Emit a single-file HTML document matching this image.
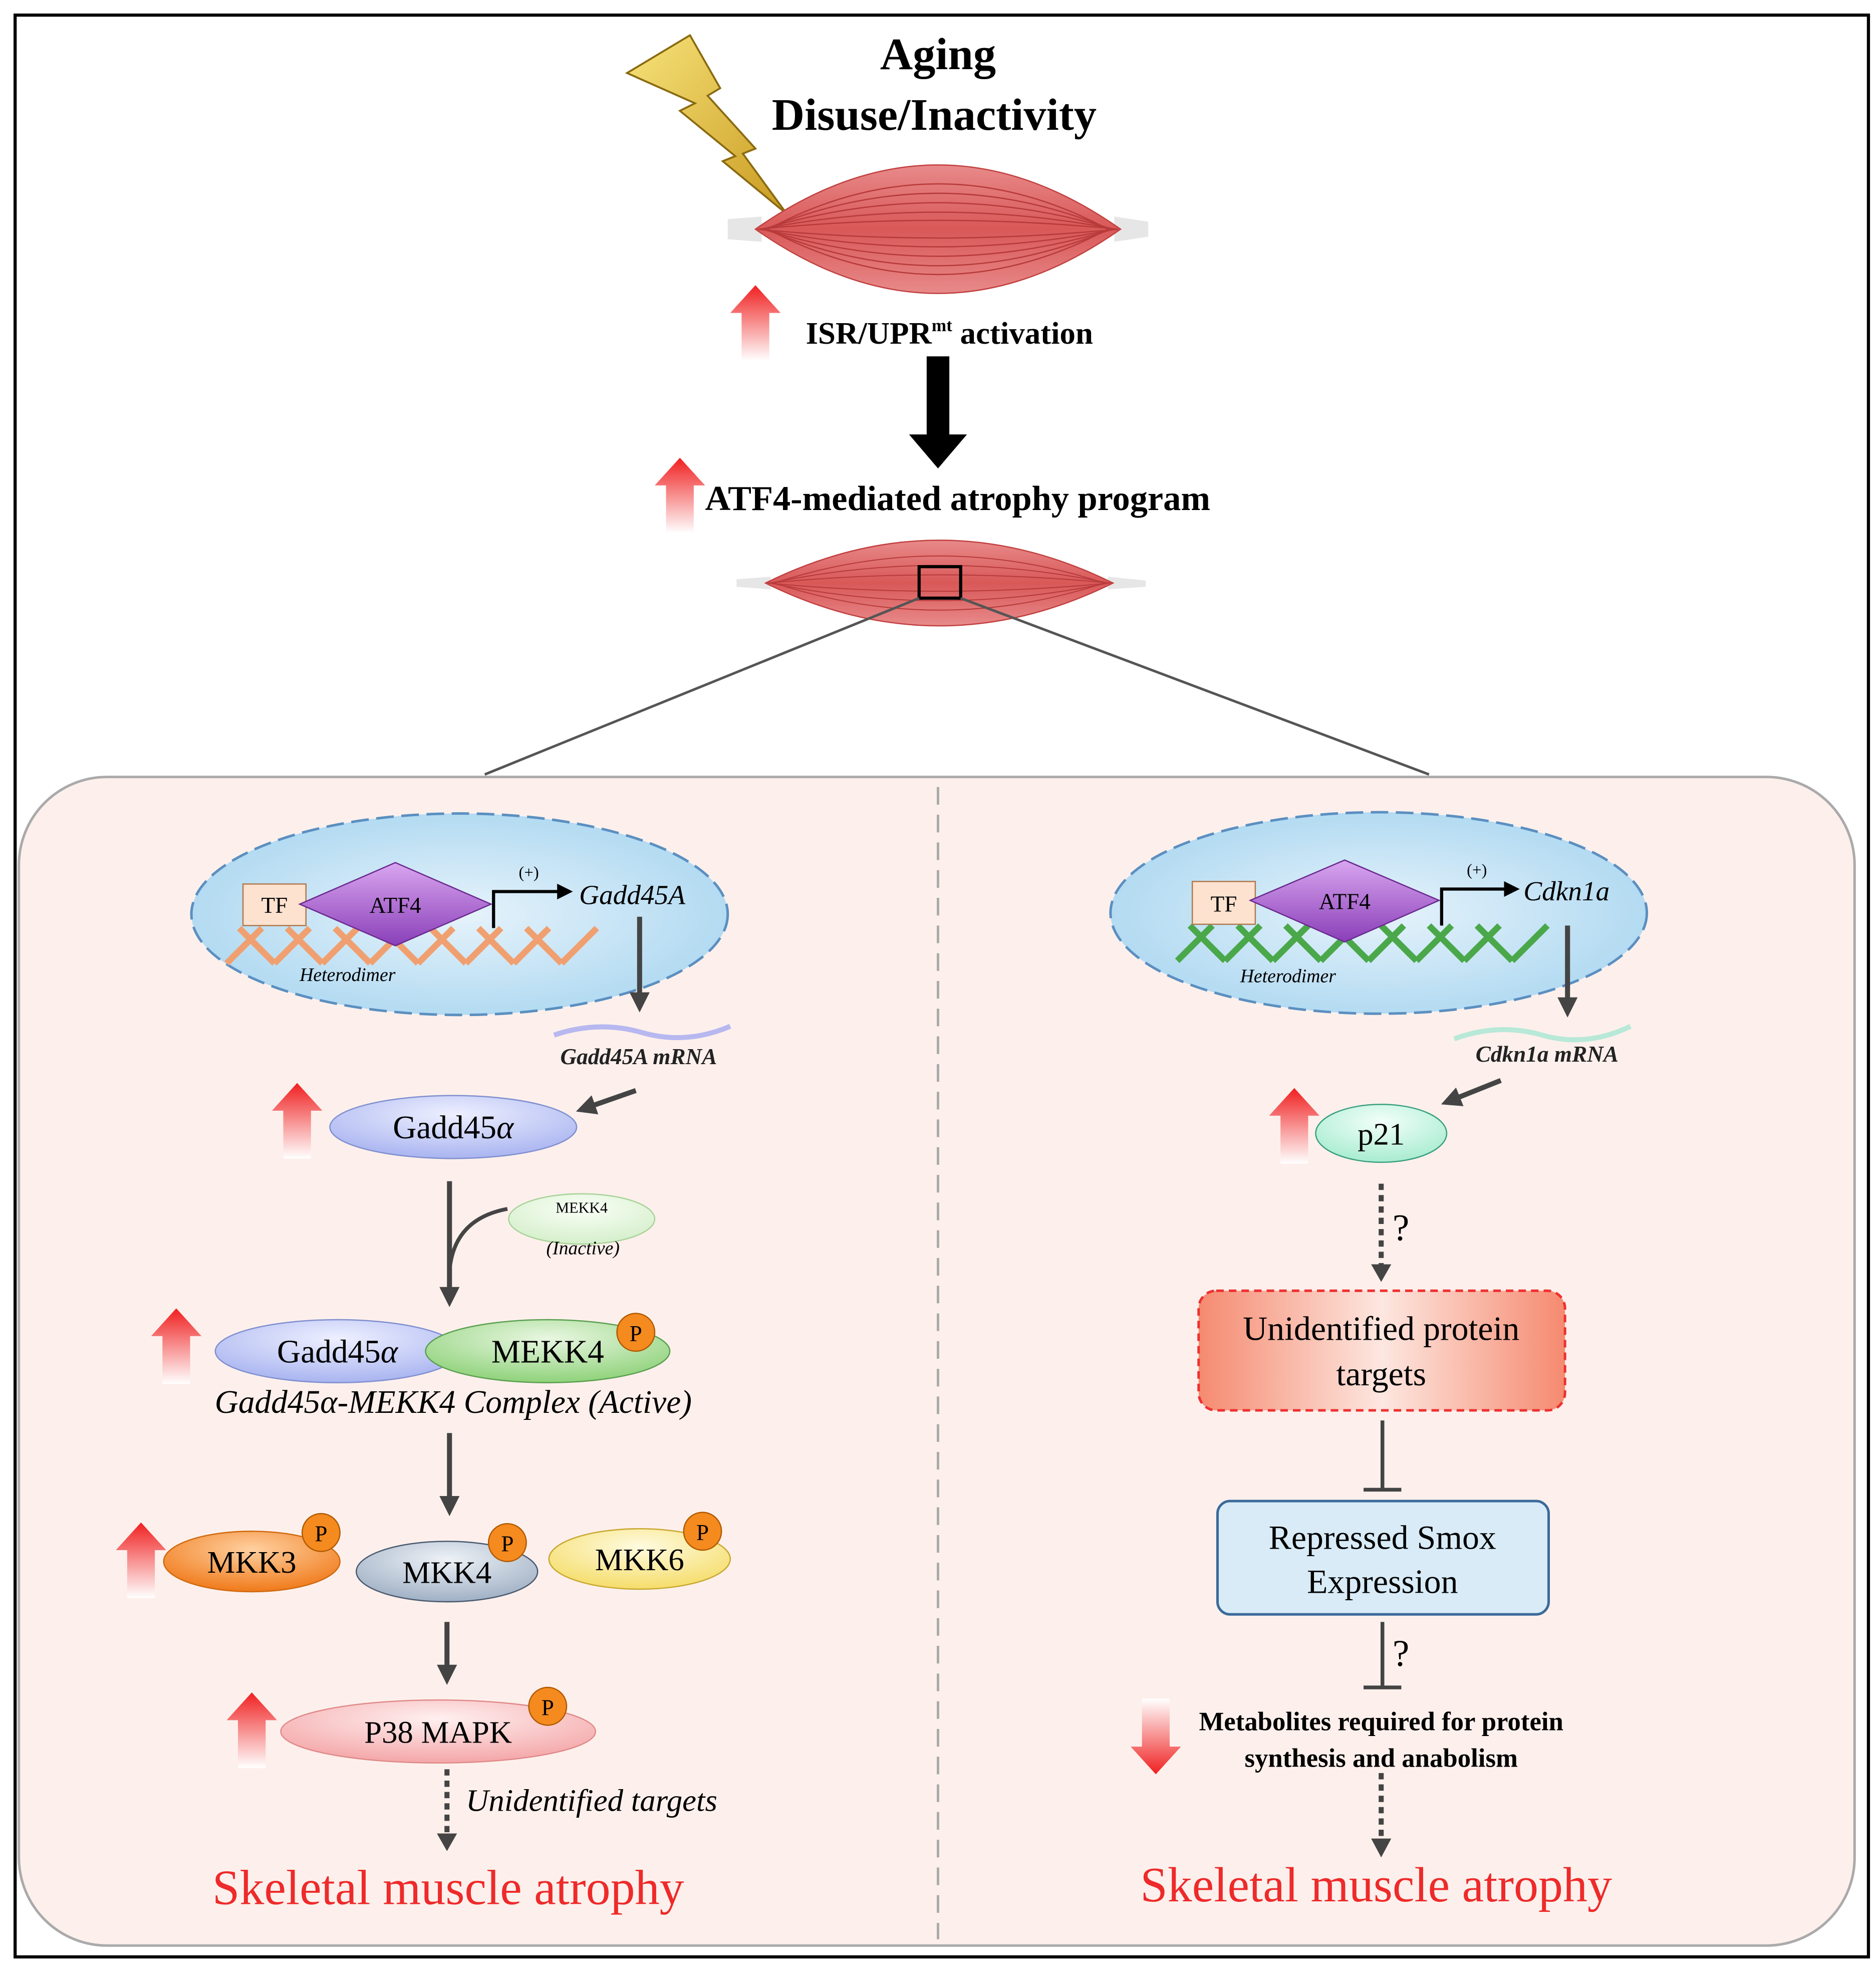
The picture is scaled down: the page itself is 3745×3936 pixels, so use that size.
<!DOCTYPE html>
<html><head><meta charset="utf-8"><style>html,body{margin:0;padding:0;background:#fff}svg{display:block}</style></head>
<body>
<svg width="3745" height="3936" viewBox="0 0 1490 1566" xmlns="http://www.w3.org/2000/svg" font-family="'Liberation Serif', serif">
<defs>
<linearGradient id="ru" x1="0" y1="0" x2="0" y2="1"><stop offset="0" stop-color="#f02020"/><stop offset="1" stop-color="#ffffff"/></linearGradient>
<linearGradient id="rd" x1="0" y1="1" x2="0" y2="0"><stop offset="0" stop-color="#f02020"/><stop offset="1" stop-color="#ffffff"/></linearGradient>
<radialGradient id="nuc" cx="0.5" cy="0.5" r="0.6"><stop offset="0" stop-color="#e6f3fb"/><stop offset="1" stop-color="#a9d6f0"/></radialGradient>
<linearGradient id="mus" x1="0" y1="0" x2="0" y2="1"><stop offset="0" stop-color="#e88a8a"/><stop offset="0.5" stop-color="#d95858"/><stop offset="1" stop-color="#e88a8a"/></linearGradient>
<linearGradient id="bolt" x1="0" y1="0" x2="1" y2="1"><stop offset="0" stop-color="#f7e37a"/><stop offset="1" stop-color="#c99a20"/></linearGradient>
<linearGradient id="ubox" x1="0" y1="0" x2="1" y2="0"><stop offset="0" stop-color="#f58a70"/><stop offset="0.5" stop-color="#fde7e0"/><stop offset="1" stop-color="#f58a70"/></linearGradient>
<radialGradient id="gL" cx="0.5" cy="0.3" r="0.7"><stop offset="0" stop-color="#eef0ff"/><stop offset="1" stop-color="#a9b4f0"/></radialGradient>
<radialGradient id="gG" cx="0.5" cy="0.3" r="0.7"><stop offset="0" stop-color="#e9f7e2"/><stop offset="1" stop-color="#8fd27a"/></radialGradient>
<radialGradient id="gO" cx="0.5" cy="0.3" r="0.7"><stop offset="0" stop-color="#ffd0a0"/><stop offset="1" stop-color="#f07a1a"/></radialGradient>
<radialGradient id="gB" cx="0.5" cy="0.3" r="0.7"><stop offset="0" stop-color="#eef2f7"/><stop offset="1" stop-color="#9fb0c4"/></radialGradient>
<radialGradient id="gY" cx="0.5" cy="0.3" r="0.7"><stop offset="0" stop-color="#fffbe0"/><stop offset="1" stop-color="#f5dd6a"/></radialGradient>
<radialGradient id="gP" cx="0.5" cy="0.3" r="0.7"><stop offset="0" stop-color="#fff0f0"/><stop offset="1" stop-color="#f4a6a8"/></radialGradient>
<radialGradient id="gM" cx="0.5" cy="0.3" r="0.7"><stop offset="0" stop-color="#f2fffa"/><stop offset="1" stop-color="#a8ecd0"/></radialGradient>
<radialGradient id="gK" cx="0.5" cy="0.3" r="0.7"><stop offset="0" stop-color="#fafff7"/><stop offset="1" stop-color="#d5efcb"/></radialGradient>
<linearGradient id="dia" x1="0" y1="0" x2="0" y2="1"><stop offset="0" stop-color="#d9a6f0"/><stop offset="1" stop-color="#8a3fb8"/></linearGradient>
<symbol id="up" viewBox="0 0 40 60" overflow="visible"><path d="M20 0 L40 22 L31 22 L31 60 L9 60 L9 22 L0 22 Z" fill="url(#ru)"/></symbol>
<symbol id="dn" viewBox="0 0 40 60" overflow="visible"><path d="M20 60 L40 38 L31 38 L31 0 L9 0 L9 38 L0 38 Z" fill="url(#rd)"/></symbol>
<marker id="ah" markerWidth="4" markerHeight="4" refX="2" refY="2" orient="auto" markerUnits="strokeWidth"><path d="M0 0 L4 2 L0 4 Z" fill="#444"/></marker>
<marker id="ahk" markerWidth="5" markerHeight="5" refX="3" refY="2.5" orient="auto" markerUnits="strokeWidth"><path d="M0 0 L5 2.5 L0 5 Z" fill="#000"/></marker>
</defs>
<rect x="12" y="12" width="1472" height="1542" fill="#fff" stroke="#000" stroke-width="2.5"/>

<path d="M498 58 L548 28 L572 70 L562 76 L600 118 L590 122 L625 170 L574 128 L584 124 L540 88 L552 82 Z" fill="url(#bolt)" stroke="#8a6a10" stroke-width="1.5"/>
<text x="745" y="55" font-size="36" font-weight="bold" text-anchor="middle">Aging</text>
<text x="742" y="103" font-size="36" font-weight="bold" text-anchor="middle">Disuse/Inactivity</text>
<path d="M578 174 L605 172 L605 192 L578 190 Z M885 172 L912 176 L912 188 L885 192 Z" fill="#e6e6e6"/>
<path d="M600 182 Q745 80 890 182 Q745 284 600 182 Z" fill="url(#mus)" stroke="#c24040" stroke-width="1"/>
<g stroke="#b83a3a" stroke-width="1" fill="none">
<path d="M610 182 Q745 110 880 182"/><path d="M608 182 Q745 125 882 182"/><path d="M606 182 Q745 140 884 182"/><path d="M604 182 Q745 155 886 182"/><path d="M602 182 Q745 168 888 182"/>
<path d="M602 182 Q745 196 888 182"/><path d="M604 182 Q745 210 886 182"/><path d="M606 182 Q745 225 884 182"/><path d="M608 182 Q745 240 882 182"/><path d="M610 182 Q745 254 880 182"/>
</g>
<use href="#up" x="580" y="225" width="40" height="63"/>
<text x="640" y="273" font-size="25" font-weight="bold">ISR/UPR<tspan font-size="14" dy="-10">mt</tspan><tspan dy="10"> activation</tspan></text>
<path d="M736 283 L754 283 L754 345 L768 345 L745 372 L722 345 L736 345 Z" fill="#000"/>
<use href="#up" x="520" y="362" width="40" height="63"/>
<text x="560" y="405" font-size="28" font-weight="bold">ATF4-mediated atrophy program</text>
<path d="M585 460 L612 458 L612 468 L585 466 Z M880 458 L910 461 L910 466 L880 468 Z" fill="#e6e6e6"/>
<path d="M608 463 Q746 395 884 463 Q746 531 608 463 Z" fill="url(#mus)" stroke="#c24040"/>
<g stroke="#b83a3a" stroke-width="0.8" fill="none">
<path d="M615 463 Q746 420 877 463"/><path d="M612 463 Q746 435 880 463"/><path d="M610 463 Q746 450 882 463"/><path d="M610 463 Q746 476 882 463"/><path d="M612 463 Q746 491 880 463"/><path d="M615 463 Q746 506 877 463"/>
</g>
<rect x="730" y="450" width="33" height="25" fill="none" stroke="#000" stroke-width="2.5"/>
<line x1="730" y1="475" x2="385" y2="615" stroke="#555" stroke-width="2"/>
<line x1="763" y1="475" x2="1135" y2="615" stroke="#555" stroke-width="2"/>

<rect x="15" y="617" width="1458" height="928" rx="70" fill="#fdf0ec" stroke="#aaa" stroke-width="2"/>
<line x1="745" y1="625" x2="745" y2="1540" stroke="#aaa" stroke-width="2" stroke-dasharray="14,8"/>

<ellipse cx="365" cy="726" rx="213" ry="80" fill="url(#nuc)" stroke="#5b8fc0" stroke-width="2" stroke-dasharray="14,6"/>
<g stroke="#f0a070" stroke-width="5" fill="none">
<path d="M180 765 l28 -28 m10 28 l28 -28 m10 28 l28 -28 m10 28 l28 -28 m10 28 l28 -28 m10 28 l28 -28 m10 28 l28 -28 m10 28 l28 -28"/>
<path d="M190 737 l28 28 m10 -28 l28 28 m10 -28 l28 28 m10 -28 l28 28 m10 -28 l28 28 m10 -28 l28 28 m10 -28 l28 28"/>
</g>
<rect x="193" y="702" width="50" height="33" fill="#fde2cf" stroke="#b07a50"/>
<text x="218" y="725" font-size="18" text-anchor="middle">TF</text>
<path d="M238 718 L314 685 L390 718 L314 751 Z" fill="url(#dia)" stroke="#6a2a90"/>
<text x="314" y="725" font-size="18" text-anchor="middle">ATF4</text>
<path d="M392 737 L392 708 L450 708" stroke="#000" stroke-width="2.5" fill="none" marker-end="url(#ahk)"/>
<text x="420" y="697" font-size="13" text-anchor="middle">(+)</text>
<text x="460" y="718" font-size="22" font-style="italic">Gadd45A</text>
<text x="238" y="779" font-size="15" font-style="italic">Heterodimer</text>
<line x1="508" y1="728" x2="508" y2="796" stroke="#444" stroke-width="4" marker-end="url(#ah)"/>
<path d="M440 822 Q475 810 510 820 T580 815" stroke="#b8b8f0" stroke-width="4" fill="none"/>
<text x="445" y="845" font-size="18" font-style="italic" font-weight="bold" fill="#222">Gadd45A mRNA</text>
<use href="#up" x="216" y="860" width="40" height="60"/>
<ellipse cx="360" cy="895" rx="98" ry="25" fill="url(#gL)" stroke="#7f8fd0"/>
<text x="360" y="904" font-size="26" text-anchor="middle">Gadd45<tspan font-style="italic">α</tspan></text>
<line x1="505" y1="866" x2="465" y2="880" stroke="#444" stroke-width="4" marker-end="url(#ah)"/>
<line x1="357" y1="938" x2="357" y2="1030" stroke="#444" stroke-width="4" marker-end="url(#ah)"/>
<path d="M403 960 Q360 968 357 1010" stroke="#444" stroke-width="3" fill="none"/>
<ellipse cx="462" cy="968" rx="58" ry="20" fill="url(#gK)" stroke="#a9d39a"/>
<text x="462" y="963" font-size="12" text-anchor="middle">MEKK4</text>
<text x="463" y="996" font-size="15" font-style="italic" text-anchor="middle">(Inactive)</text>
<use href="#up" x="120" y="1038" width="40" height="62"/>
<ellipse cx="268" cy="1073" rx="97" ry="25" fill="url(#gL)" stroke="#7f8fd0"/>
<text x="268" y="1082" font-size="26" text-anchor="middle">Gadd45<tspan font-style="italic">α</tspan></text>
<ellipse cx="435" cy="1073" rx="97" ry="25" fill="url(#gG)" stroke="#5aa050"/>
<text x="435" y="1082" font-size="26" text-anchor="middle">MEKK4</text>
<circle cx="505" cy="1058" r="15" fill="#f58a1f" stroke="#b05a00"/><text x="505" y="1065" font-size="18" text-anchor="middle">P</text>
<text x="360" y="1122" font-size="26" font-style="italic" text-anchor="middle">Gadd45α-MEKK4 Complex (Active)</text>
<line x1="357" y1="1138" x2="357" y2="1196" stroke="#444" stroke-width="4" marker-end="url(#ah)"/>
<use href="#up" x="92" y="1208" width="40" height="62"/>
<ellipse cx="200" cy="1240" rx="70" ry="24" fill="url(#gO)" stroke="#d06a10"/>
<text x="200" y="1249" font-size="25" text-anchor="middle">MKK3</text>
<circle cx="255" cy="1217" r="15" fill="#f58a1f" stroke="#b05a00"/><text x="255" y="1224" font-size="18" text-anchor="middle">P</text>
<ellipse cx="355" cy="1248" rx="72" ry="24" fill="url(#gB)" stroke="#4a5a70"/>
<text x="355" y="1257" font-size="25" text-anchor="middle">MKK4</text>
<circle cx="403" cy="1225" r="15" fill="#f58a1f" stroke="#b05a00"/><text x="403" y="1232" font-size="18" text-anchor="middle">P</text>
<ellipse cx="508" cy="1238" rx="72" ry="24" fill="url(#gY)" stroke="#c8a830"/>
<text x="508" y="1247" font-size="25" text-anchor="middle">MKK6</text>
<circle cx="558" cy="1216" r="15" fill="#f58a1f" stroke="#b05a00"/><text x="558" y="1223" font-size="18" text-anchor="middle">P</text>
<line x1="355" y1="1288" x2="355" y2="1330" stroke="#444" stroke-width="4" marker-end="url(#ah)"/>
<use href="#up" x="180" y="1343" width="40" height="62"/>
<ellipse cx="348" cy="1375" rx="125" ry="25" fill="url(#gP)" stroke="#e08a8a"/>
<text x="348" y="1384" font-size="25" text-anchor="middle">P38 MAPK</text>
<circle cx="435" cy="1355" r="15" fill="#f58a1f" stroke="#b05a00"/><text x="435" y="1362" font-size="18" text-anchor="middle">P</text>
<line x1="355" y1="1405" x2="355" y2="1458" stroke="#444" stroke-width="4" stroke-dasharray="5,4"/>
<path d="M347 1456 L363 1456 L355 1470 Z" fill="#444"/>
<text x="370" y="1438" font-size="25" font-style="italic">Unidentified targets</text>
<text x="356" y="1512" font-size="39" fill="#ee2a2a" text-anchor="middle">Skeletal muscle atrophy</text>

<ellipse cx="1095" cy="725" rx="213" ry="80" fill="url(#nuc)" stroke="#5b8fc0" stroke-width="2" stroke-dasharray="14,6"/>
<g stroke="#4aa84a" stroke-width="5" fill="none">
<path d="M935 763 l28 -28 m10 28 l28 -28 m10 28 l28 -28 m10 28 l28 -28 m10 28 l28 -28 m10 28 l28 -28 m10 28 l28 -28 m10 28 l28 -28"/>
<path d="M945 735 l28 28 m10 -28 l28 28 m10 -28 l28 28 m10 -28 l28 28 m10 -28 l28 28 m10 -28 l28 28 m10 -28 l28 28"/>
</g>
<rect x="947" y="700" width="50" height="34" fill="#fde2cf" stroke="#b07a50"/>
<text x="972" y="724" font-size="18" text-anchor="middle">TF</text>
<path d="M993 715 L1068 683 L1143 715 L1068 748 Z" fill="url(#dia)" stroke="#6a2a90"/>
<text x="1068" y="722" font-size="18" text-anchor="middle">ATF4</text>
<path d="M1145 735 L1145 706 L1202 706" stroke="#000" stroke-width="2.5" fill="none" marker-end="url(#ahk)"/>
<text x="1173" y="695" font-size="13" text-anchor="middle">(+)</text>
<text x="1210" y="715" font-size="22" font-style="italic">Cdkn1a</text>
<text x="985" y="780" font-size="15" font-style="italic">Heterodimer</text>
<line x1="1245" y1="735" x2="1245" y2="800" stroke="#444" stroke-width="4" marker-end="url(#ah)"/>
<path d="M1155 825 Q1190 812 1225 822 T1295 815" stroke="#b8e8d8" stroke-width="4" fill="none"/>
<text x="1172" y="843" font-size="18" font-style="italic" font-weight="bold" fill="#222">Cdkn1a mRNA</text>
<use href="#up" x="1008" y="863" width="40" height="62"/>
<ellipse cx="1097" cy="900" rx="52" ry="23" fill="url(#gM)" stroke="#3aa080"/>
<text x="1097" y="909" font-size="25" text-anchor="middle">p21</text>
<line x1="1192" y1="858" x2="1152" y2="874" stroke="#444" stroke-width="4" marker-end="url(#ah)"/>
<line x1="1097" y1="940" x2="1097" y2="1006" stroke="#444" stroke-width="4" stroke-dasharray="5,4"/>
<path d="M1089 1004 L1105 1004 L1097 1018 Z" fill="#444"/>
<text x="1106" y="985" font-size="30">?</text>
<rect x="952" y="1025" width="291" height="95" rx="14" fill="url(#ubox)" stroke="#ee3030" stroke-width="2" stroke-dasharray="6,4"/>
<text x="1097" y="1064" font-size="27" text-anchor="middle">Unidentified protein</text>
<text x="1097" y="1100" font-size="27" text-anchor="middle">targets</text>
<line x1="1098" y1="1128" x2="1098" y2="1183" stroke="#444" stroke-width="3"/>
<line x1="1083" y1="1183" x2="1113" y2="1183" stroke="#444" stroke-width="3"/>
<rect x="967" y="1192" width="263" height="90" rx="10" fill="#d8ebf7" stroke="#3a6a9a" stroke-width="2"/>
<text x="1098" y="1230" font-size="27" text-anchor="middle">Repressed Smox</text>
<text x="1098" y="1265" font-size="27" text-anchor="middle">Expression</text>
<line x1="1098" y1="1288" x2="1098" y2="1340" stroke="#444" stroke-width="3"/>
<line x1="1083" y1="1340" x2="1113" y2="1340" stroke="#444" stroke-width="3"/>
<text x="1106" y="1323" font-size="30">?</text>
<use href="#dn" x="898" y="1348" width="40" height="62"/>
<text x="1097" y="1374" font-size="21" font-weight="bold" text-anchor="middle">Metabolites required for protein</text>
<text x="1097" y="1403" font-size="21" font-weight="bold" text-anchor="middle">synthesis and anabolism</text>
<line x1="1097" y1="1408" x2="1097" y2="1462" stroke="#444" stroke-width="4" stroke-dasharray="5,4"/>
<path d="M1089 1460 L1105 1460 L1097 1475 Z" fill="#444"/>
<text x="1093" y="1510" font-size="39" fill="#ee2a2a" text-anchor="middle">Skeletal muscle atrophy</text>
</svg>
</body></html>
